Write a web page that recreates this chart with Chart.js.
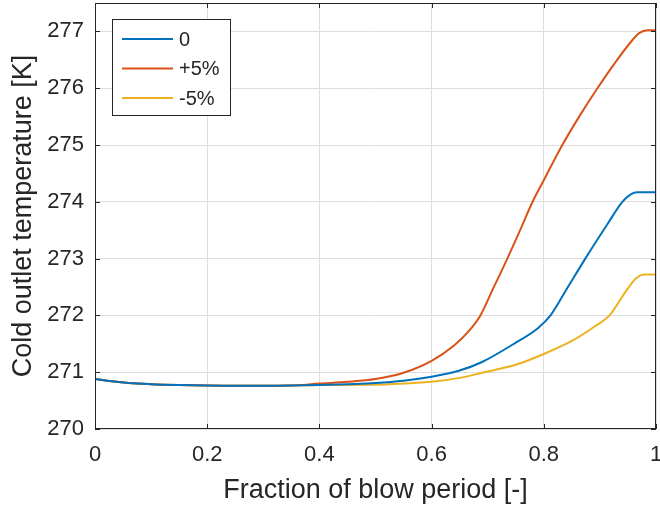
<!DOCTYPE html>
<html>
<head>
<meta charset="utf-8">
<script src="https://cdn.jsdelivr.net/npm/chart.js@4/dist/chart.umd.min.js"></script>
<style>
    body { margin: 0; background: #fff; }
</style>
</head>
<body>
<canvas id="chart" width="660" height="510"></canvas>
<script>
// shared start of the three runs (they coincide until ~0.4)
const startX = [0, 0.03, 0.06, 0.1, 0.15, 0.2, 0.25, 0.3, 0.35];
const startT = [270.88, 270.84, 270.81, 270.79, 270.775, 270.765, 270.76, 270.76, 270.765];

// nominal case
const zeroX = [0.4, 0.45, 0.5, 0.55, 0.6, 0.65, 0.69, 0.75, 0.79, 0.812, 0.843, 0.874, 0.913, 0.94, 0.955, 0.966, 1];
const zeroT = [270.775, 270.79, 270.81, 270.85, 270.92, 271.03, 271.18, 271.52, 271.78, 272.0, 272.5, 273.0, 273.6, 274.0, 274.13, 274.17, 274.17];

// +5%
const plusX = [0.4, 0.45, 0.5, 0.55, 0.6, 0.64, 0.665, 0.687, 0.71, 0.735, 0.76, 0.78, 0.8, 0.833, 0.865, 0.895, 0.925, 0.954, 0.97, 0.985, 1];
const plusT = [270.8, 270.83, 270.88, 270.99, 271.2, 271.47, 271.71, 272.0, 272.48, 273.0, 273.55, 274.0, 274.38, 275.0, 275.53, 275.99, 276.42, 276.8, 276.97, 277.02, 277.02];

// -5%
const minusX = [0.4, 0.5, 0.55, 0.6, 0.65, 0.69, 0.75, 0.8, 0.85, 0.89, 0.917, 0.948, 0.965, 0.979, 1];
const minusT = [270.775, 270.78, 270.8, 270.83, 270.9, 270.99, 271.13, 271.32, 271.55, 271.8, 272.0, 272.45, 272.66, 272.72, 272.72];

const labels = ['0', '+5%', '-5%'];
const colors = ['#0072BD', '#D95319', '#EDB120'];

const xTicks = [0, 0.2, 0.4, 0.6, 0.8, 1];
const yTicks = [270, 271, 272, 273, 274, 275, 276, 277];

const FONT = '"Liberation Sans", Arial, Helvetica, sans-serif';
const TEXT = '#262626';
const GRID = '#dedede';

function points(xs, ys) {
    return startX.concat(xs).map((x, i) => ({x: x, y: startT.concat(ys)[i]}));
}

// matlab style box: frame, inward ticks on all four sides, legend in the corner
const boxPlugin = {
    id: 'box',
    afterDraw(chart) {
        const ctx = chart.ctx;
        const a = chart.chartArea;
        const xs = chart.scales.x, ys = chart.scales.y;
        ctx.save();
        ctx.strokeStyle = TEXT;
        ctx.lineWidth = 1;
        ctx.strokeRect(Math.round(a.left) + 0.5, Math.round(a.top) + 0.5,
            Math.round(a.right - a.left) - 1, Math.round(a.bottom - a.top) - 1);
        ctx.beginPath();
        xTicks.forEach(v => {
            let px = Math.round(xs.getPixelForValue(v)) + 0.5;
            ctx.moveTo(px, a.bottom);
            ctx.lineTo(px, a.bottom - 5);
            ctx.moveTo(px, a.top);
            ctx.lineTo(px, a.top + 5);
        });
        yTicks.forEach(v => {
            let py = Math.round(ys.getPixelForValue(v)) + 0.5;
            ctx.moveTo(a.left, py);
            ctx.lineTo(a.left + 5, py);
            ctx.moveTo(a.right, py);
            ctx.lineTo(a.right - 5, py);
        });
        ctx.stroke();

        // legend
        const lx = a.left + 17, ly = a.top + 16;
        ctx.fillStyle = '#fff';
        ctx.fillRect(lx, ly, 118, 96);
        ctx.strokeRect(lx + 0.5, ly + 0.5, 118, 96);
        ctx.font = '20px ' + FONT;
        ctx.textBaseline = 'middle';
        ctx.textAlign = 'left';
        chart.data.datasets.forEach((ds, i) => {
            let yy = ly + 20 + i * 29.5;
            ctx.strokeStyle = ds.borderColor;
            ctx.lineWidth = 2;
            ctx.beginPath();
            ctx.moveTo(lx + 10, yy);
            ctx.lineTo(lx + 61, yy);
            ctx.stroke();
            ctx.fillStyle = TEXT;
            ctx.fillText(ds.label, lx + 67, yy + 1);
        });
        ctx.restore();
    }
};

new Chart(document.getElementById('chart'), {
    type: 'line',
    data: {
        datasets: [
            {label: labels[0], data: points(zeroX, zeroT), borderColor: colors[0]},
            {label: labels[1], data: points(plusX, plusT), borderColor: colors[1]},
            {label: labels[2], data: points(minusX, minusT), borderColor: colors[2]}
        ]
    },
    options: {
        responsive: false,
        animation: false,
        layout: {padding: {top: 3, right: 4, left: 0, bottom: 0}},
        elements: {
            point: {radius: 0},
            line: {borderWidth: 2, cubicInterpolationMode: 'monotone'}
        },
        plugins: {
            legend: {display: false},
            tooltip: {enabled: false}
        },
        scales: {
            x: {
                type: 'linear',
                min: 0,
                max: 1,
                afterBuildTicks: s => { s.ticks = xTicks.map(v => ({value: v})); },
                afterFit: s => { s.height = 81; s.paddingLeft = 0; s.paddingRight = 0; },
                border: {display: false},
                grid: {color: GRID, drawTicks: false},
                ticks: {
                    color: TEXT,
                    padding: 13,
                    maxRotation: 0,
                    font: {family: FONT, size: 22},
                    callback: v => String(v)
                },
                title: {
                    display: true,
                    text: 'Fraction of blow period [-]',
                    color: TEXT,
                    padding: {top: 0, bottom: 3},
                    font: {family: FONT, size: 27}
                }
            },
            y: {
                min: 270,
                max: 277.5,
                afterBuildTicks: s => { s.ticks = yTicks.map(v => ({value: v})); },
                afterFit: s => { s.width = 95; s.paddingTop = 0; s.paddingBottom = 0; },
                border: {display: false},
                grid: {color: GRID, drawTicks: false},
                ticks: {
                    color: TEXT,
                    padding: 11,
                    font: {family: FONT, size: 22},
                    callback: v => String(v)
                },
                title: {
                    display: true,
                    text: 'Cold outlet temperature [K]',
                    color: TEXT,
                    padding: {top: 7, bottom: 0},
                    font: {family: FONT, size: 27}
                }
            }
        }
    },
    plugins: [boxPlugin]
});
</script>
</body>
</html>
